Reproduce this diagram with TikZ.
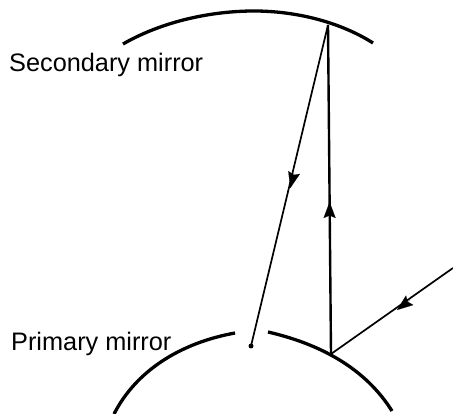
\documentclass[tikz,border=0pt]{standalone}
\usepackage{fontspec}
\setmainfont{Liberation Sans}
\usetikzlibrary{arrows.meta}
\begin{document}
\begin{tikzpicture}[x=1pt,y=-1pt,
  mirror/.style={line width=3.3pt,line cap=butt},
  ray/.style={line width=1.7pt},
  thickray/.style={line width=2.4pt},
  lbl/.style={font=\fontsize{25.3}{25.3}\selectfont,anchor=base west,inner sep=0pt,text=black},
  tipmark/.style={-{Stealth[length=16pt,width=12pt,inset=2.5pt]},line width=.1pt,shorten >=0pt}]
\useasboundingbox (0,0) rectangle (453,414);
\coordinate (secL) at (123,44);
\coordinate (secR) at (373,43);
\coordinate (secP) at (328,25);
\coordinate (primRay) at (331,354);
\coordinate (focus) at (251,346);
\coordinate (incoming) at (453,268);
\coordinate (upA) at (329.6,217);
\coordinate (upB) at (329.6,202);
\coordinate (downA) at (294,173);
\coordinate (downB) at (290.3,188);
\coordinate (inA) at (410,300);
\coordinate (inB) at (397,310);
\draw[mirror] (secL) .. controls (163,21) and (212,11) .. (254,11) .. controls (296,11) and (340,22) .. (secR);
\draw[mirror] (114,414) .. controls (136,371) and (180,343) .. (235,333);
\draw[mirror] (268,332) .. controls (320,344) and (365,368) .. (392,411);
\draw[ray] (secP) -- (focus);
\draw[thickray] (secP) -- (primRay);
\draw[ray] (incoming) -- (primRay);
\draw[tipmark] (upA) -- (upB);
\draw[tipmark] (downA) -- (downB);
\draw[tipmark] (inA) -- (inB);
\fill (focus) circle (2.5pt);
\node[lbl] (secondary) at (9,72) {Secondary mirror};
\node[lbl] (primary) at (11,351) {Primary mirror};
\end{tikzpicture}
\end{document}
